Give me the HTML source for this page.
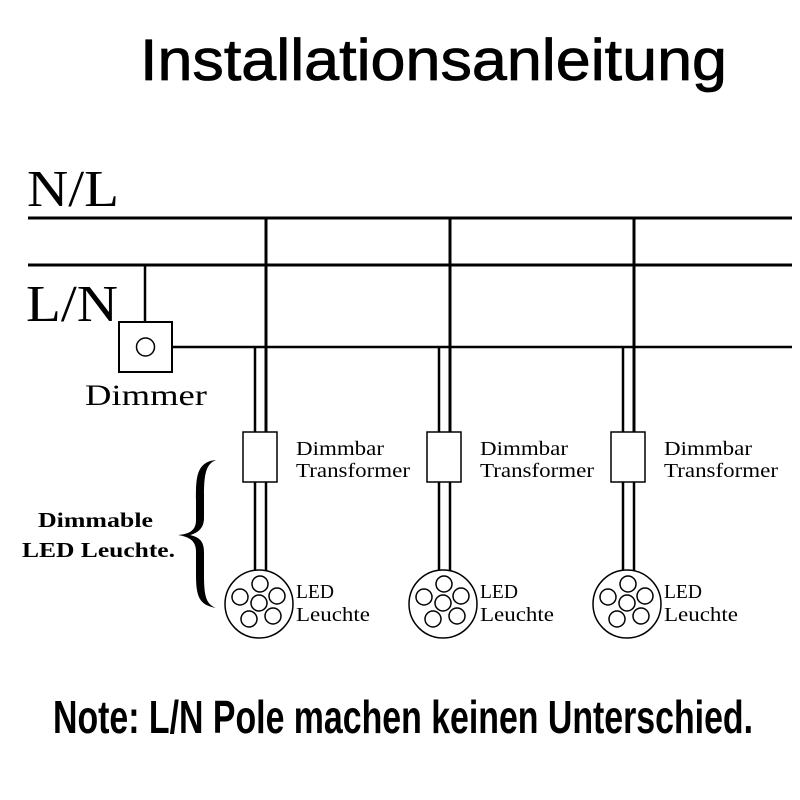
<!DOCTYPE html>
<html><head><meta charset="utf-8"><style>
html,body{margin:0;padding:0;background:#fff;}
svg{display:block;}
</style></head><body>
<svg width="800" height="800" viewBox="0 0 800 800" xmlns="http://www.w3.org/2000/svg">
<rect width="800" height="800" fill="#fff"/>
<text x="140" y="80" font-family="Liberation Sans, sans-serif" font-size="58" textLength="587" lengthAdjust="spacingAndGlyphs" fill="#000" stroke="#000" stroke-width="0.8">Installationsanleitung</text>
<text x="27" y="206" font-family="Liberation Serif, serif" font-size="52" textLength="92" lengthAdjust="spacingAndGlyphs" fill="#000">N/L</text>
<text x="26" y="321" font-family="Liberation Serif, serif" font-size="52" textLength="92" lengthAdjust="spacingAndGlyphs" fill="#000">L/N</text>
<g stroke="#000" stroke-width="3" fill="none">
<line x1="28" y1="218" x2="792" y2="218"/>
<line x1="28" y1="265" x2="792" y2="265"/>
<line x1="172" y1="347" x2="792" y2="347" stroke-width="2.5"/>
<line x1="145" y1="265" x2="145" y2="322" stroke-width="2.5"/>
</g>
<rect x="119" y="322" width="53" height="50" fill="#fff" stroke="#000" stroke-width="2"/>
<circle cx="145.5" cy="347" r="9" fill="none" stroke="#000" stroke-width="1.5"/>
<text x="85" y="405" font-family="Liberation Serif, serif" font-size="30" textLength="122" lengthAdjust="spacingAndGlyphs" fill="#000">Dimmer</text>

<g id="col1">
<line x1="266" y1="218" x2="266" y2="432" stroke="#000" stroke-width="3"/>
<line x1="255" y1="347" x2="255" y2="432" stroke="#000" stroke-width="2.5"/>
<line x1="266" y1="482" x2="266" y2="571" stroke="#000" stroke-width="2.5"/>
<line x1="255" y1="482" x2="255" y2="571" stroke="#000" stroke-width="2.5"/>
<rect x="243" y="432" width="34" height="50" fill="#fff" stroke="#000" stroke-width="1.5"/>
<circle cx="259" cy="604" r="34" fill="#fff" stroke="#000" stroke-width="1.5"/>
<g fill="none" stroke="#000" stroke-width="1.5">
<circle cx="259" cy="603" r="8"/><circle cx="260" cy="584" r="8"/><circle cx="240" cy="597" r="8"/>
<circle cx="277" cy="596" r="8"/><circle cx="249" cy="619" r="8"/><circle cx="273" cy="616" r="8"/>
</g>
<text x="296" y="455" font-family="Liberation Serif, serif" font-size="20" textLength="88" lengthAdjust="spacingAndGlyphs">Dimmbar</text>
<text x="296" y="477" font-family="Liberation Serif, serif" font-size="20" textLength="114" lengthAdjust="spacingAndGlyphs">Transformer</text>
<text x="296" y="598" font-family="Liberation Serif, serif" font-size="20" textLength="38" lengthAdjust="spacingAndGlyphs">LED</text>
<text x="296" y="621" font-family="Liberation Serif, serif" font-size="20" textLength="74" lengthAdjust="spacingAndGlyphs">Leuchte</text>
</g>
<use href="#col1" x="184"/>
<use href="#col1" x="368"/>

<g font-family="Liberation Serif, serif" font-size="21" font-weight="bold" fill="#000">
<text x="38" y="527" textLength="115" lengthAdjust="spacingAndGlyphs">Dimmable</text>
<text x="22" y="557" textLength="153" lengthAdjust="spacingAndGlyphs">LED Leuchte.</text>
</g>
<path d="M216,460 C196,462 196,478 196,500 L196,520 C196,530 190,534 178,535 C190,537 196,541 196,552 L196,575 C196,598 200,605 216,608 C206,604 204,596 204,575 L204,552 C204,540 198,537 190,535 C198,533 204,528 204,518 L204,495 C204,474 206,464 216,460 Z" fill="#000"/>
<text x="53" y="733" font-family="Liberation Sans, sans-serif" font-size="46" font-weight="bold" textLength="700" lengthAdjust="spacingAndGlyphs" fill="#000">Note: L/N Pole machen keinen Unterschied.</text>
</svg>
</body></html>
